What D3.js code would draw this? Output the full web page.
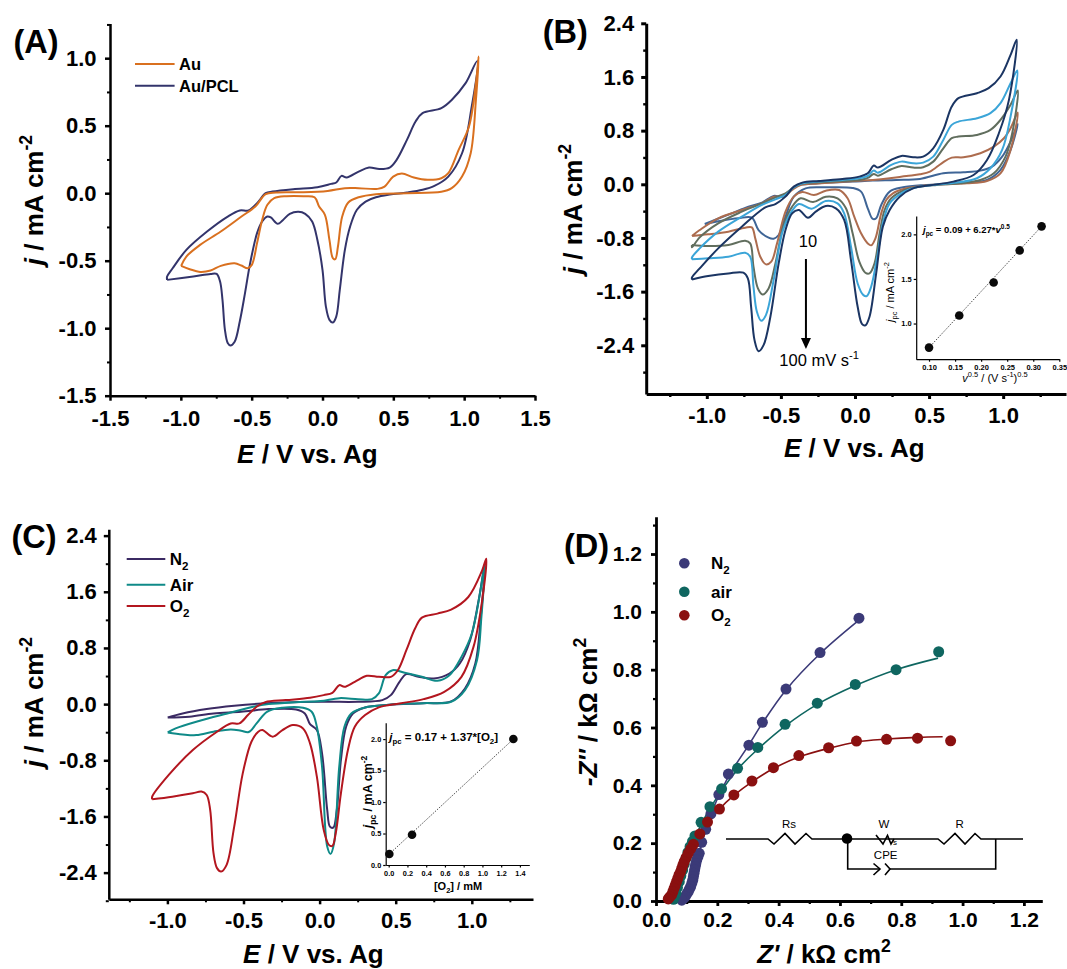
<!DOCTYPE html>
<html><head><meta charset="utf-8">
<script src="https://cdnjs.cloudflare.com/ajax/libs/d3/7.8.5/d3.min.js"></script>
<style>
html,body{margin:0;padding:0;background:#fff}
svg{display:block}
text{font-family:"Liberation Sans",Arial,sans-serif;fill:#000}
</style></head><body>
<svg id="fig" width="1067" height="969" viewBox="0 0 1067 969"></svg>
<script>
// ---- Panel A : [E / V, j / mA cm-2]
const aPcl=[[-1.097,-0.642],[-0.912,-0.617],[-0.79,-0.598],[-0.747,-0.598],[-0.723,-0.654],[-0.706,-0.79],[-0.689,-1.01],[-0.669,-1.11],[-0.65,-1.128],[-0.62,-1.10],[-0.584,-0.95],[-0.547,-0.74],[-0.511,-0.52],[-0.462,-0.296],[-0.426,-0.21],[-0.389,-0.173],[-0.365,-0.18],[-0.316,-0.227],[-0.28,-0.2],[-0.231,-0.153],[-0.17,-0.138],[-0.122,-0.153],[-0.073,-0.21],[-0.036,-0.346],[0,-0.568],[0.024,-0.84],[0.049,-0.938],[0.073,-0.958],[0.097,-0.914],[0.122,-0.716],[0.158,-0.42],[0.195,-0.247],[0.243,-0.123],[0.304,-0.062],[0.377,-0.03],[0.474,-0.01],[0.596,0.005],[0.706,0.025],[0.79,0.054],[0.888,0.123],[0.985,0.296],[1.05,0.62],[1.093,0.98],[1.01,0.815],[0.912,0.691],[0.839,0.63],[0.706,0.593],[0.657,0.531],[0.596,0.395],[0.523,0.247],[0.474,0.19],[0.401,0.18],[0.328,0.19],[0.255,0.16],[0.17,0.116],[0.134,0.128],[0.097,0.079],[0.061,0.069],[-0.036,0.044],[-0.207,0.03],[-0.353,0.012],[-0.401,0],[-0.462,-0.074],[-0.523,-0.128],[-0.584,-0.128],[-0.669,-0.173],[-0.815,-0.284],[-0.961,-0.42],[-1.058,-0.556],[-1.097,-0.617],[-1.097,-0.642]];
const aAu=[[-0.998,-0.538],[-0.937,-0.563],[-0.864,-0.583],[-0.79,-0.573],[-0.718,-0.538],[-0.62,-0.519],[-0.572,-0.536],[-0.528,-0.556],[-0.499,-0.531],[-0.462,-0.37],[-0.426,-0.198],[-0.389,-0.086],[-0.341,-0.037],[-0.255,-0.022],[-0.134,-0.022],[-0.056,-0.03],[-0.024,-0.099],[0.017,-0.16],[0.049,-0.346],[0.073,-0.481],[0.09,-0.489],[0.109,-0.395],[0.139,-0.173],[0.182,-0.069],[0.255,-0.03],[0.377,-0.007],[0.596,0],[0.839,0.01],[0.912,0.037],[0.985,0.123],[1.046,0.296],[1.083,0.691],[1.102,1.012],[1.083,0.815],[1.034,0.494],[0.961,0.321],[0.888,0.148],[0.839,0.111],[0.742,0.099],[0.645,0.116],[0.56,0.146],[0.499,0.123],[0.438,0.049],[0.389,0.032],[0.255,0.037],[0.158,0.037],[0.036,0.017],[-0.134,0.007],[-0.328,0.005],[-0.401,-0.007],[-0.474,-0.099],[-0.572,-0.173],[-0.718,-0.284],[-0.864,-0.383],[-0.961,-0.469],[-0.998,-0.538]];
// ---- Panel B : scan rates 10 ... 100 mV/s
const b100=[[-1.1,-1.418],[-0.991,-1.368],[-0.855,-1.328],[-0.753,-1.318],[-0.723,-1.403],[-0.701,-1.826],[-0.678,-2.323],[-0.651,-2.488],[-0.617,-2.398],[-0.571,-1.975],[-0.515,-1.179],[-0.469,-0.682],[-0.424,-0.433],[-0.379,-0.383],[-0.317,-0.498],[-0.265,-0.408],[-0.197,-0.323],[-0.129,-0.358],[-0.073,-0.532],[-0.027,-1.129],[0.018,-1.826],[0.048,-2.085],[0.07,-2.104],[0.098,-1.975],[0.143,-1.328],[0.188,-0.632],[0.234,-0.383],[0.302,-0.184],[0.392,-0.06],[0.506,-0.015],[0.664,0.04],[0.8,0.139],[0.891,0.363],[0.971,0.761],[1.039,1.259],[1.091,2.154],[1.05,1.93],[0.982,1.607],[0.902,1.433],[0.823,1.358],[0.698,1.284],[0.653,1.159],[0.596,0.811],[0.528,0.537],[0.46,0.413],[0.392,0.403],[0.313,0.423],[0.245,0.363],[0.154,0.249],[0.127,0.279],[0.086,0.164],[0.029,0.114],[-0.084,0.08],[-0.243,0.05],[-0.356,0.025],[-0.413,-0.035],[-0.469,-0.184],[-0.537,-0.294],[-0.605,-0.343],[-0.764,-0.632],[-0.923,-0.955],[-1.048,-1.254],[-1.1,-1.388],[-1.1,-1.418]];
const b50=[[-1.1,-1.119],[-0.991,-1.104],[-0.855,-1.08],[-0.741,-1.02],[-0.707,-1.08],[-0.685,-1.527],[-0.662,-1.9],[-0.633,-2.035],[-0.601,-1.95],[-0.549,-1.428],[-0.492,-0.731],[-0.435,-0.433],[-0.379,-0.294],[-0.293,-0.363],[-0.197,-0.249],[-0.118,-0.284],[-0.073,-0.433],[-0.027,-0.93],[0.018,-1.478],[0.057,-1.652],[0.079,-1.667],[0.109,-1.527],[0.154,-1.03],[0.188,-0.582],[0.234,-0.284],[0.313,-0.134],[0.415,-0.045],[0.528,-0.01],[0.687,0.025],[0.823,0.09],[0.914,0.239],[0.993,0.512],[1.05,1.01],[1.095,1.697],[1.05,1.507],[0.982,1.209],[0.914,1.06],[0.823,0.985],[0.698,0.935],[0.653,0.886],[0.596,0.662],[0.528,0.413],[0.46,0.323],[0.392,0.313],[0.313,0.338],[0.245,0.289],[0.154,0.174],[0.127,0.204],[0.086,0.124],[0.029,0.09],[-0.084,0.065],[-0.243,0.04],[-0.356,0.015],[-0.413,-0.045],[-0.469,-0.159],[-0.537,-0.224],[-0.628,-0.308],[-0.764,-0.483],[-0.923,-0.706],[-1.048,-0.955],[-1.1,-1.09],[-1.1,-1.119]];
const b25=[[-1.1,-0.905],[-0.991,-0.92],[-0.855,-0.905],[-0.741,-0.841],[-0.707,-0.881],[-0.685,-1.229],[-0.655,-1.552],[-0.624,-1.642],[-0.583,-1.552],[-0.537,-1.179],[-0.481,-0.607],[-0.424,-0.333],[-0.367,-0.209],[-0.283,-0.264],[-0.197,-0.184],[-0.118,-0.209],[-0.061,-0.358],[-0.016,-0.731],[0.029,-1.154],[0.07,-1.318],[0.098,-1.328],[0.132,-1.179],[0.166,-0.731],[0.2,-0.383],[0.245,-0.209],[0.336,-0.085],[0.438,-0.035],[0.551,-0.01],[0.71,0.015],[0.846,0.065],[0.937,0.164],[1.016,0.413],[1.061,0.761],[1.098,1.398],[1.05,1.184],[0.982,0.96],[0.914,0.811],[0.823,0.736],[0.698,0.711],[0.653,0.687],[0.596,0.537],[0.528,0.338],[0.46,0.254],[0.392,0.249],[0.313,0.274],[0.245,0.224],[0.154,0.129],[0.127,0.154],[0.086,0.095],[0.029,0.065],[-0.084,0.05],[-0.243,0.03],[-0.356,0.01],[-0.413,-0.045],[-0.469,-0.134],[-0.537,-0.194],[-0.628,-0.284],[-0.764,-0.408],[-0.923,-0.582],[-1.048,-0.791],[-1.1,-0.94],[-1.1,-0.905]];
const b20=[[-1.1,-0.771],[-0.991,-0.746],[-0.855,-0.706],[-0.741,-0.647],[-0.696,-0.642],[-0.673,-0.806],[-0.639,-1.08],[-0.601,-1.194],[-0.565,-1.154],[-0.526,-0.881],[-0.469,-0.408],[-0.413,-0.184],[-0.356,-0.114],[-0.277,-0.159],[-0.197,-0.095],[-0.107,-0.085],[-0.05,-0.209],[-0.005,-0.483],[0.041,-0.731],[0.086,-0.881],[0.109,-0.91],[0.138,-0.806],[0.177,-0.433],[0.211,-0.234],[0.256,-0.134],[0.347,-0.06],[0.46,-0.02],[0.596,0],[0.755,0.015],[0.891,0.05],[0.982,0.164],[1.05,0.512],[1.098,1.07],[1.05,0.836],[1.005,0.687],[0.937,0.562],[0.846,0.463],[0.732,0.403],[0.653,0.398],[0.585,0.313],[0.506,0.189],[0.438,0.149],[0.347,0.124],[0.234,0.09],[0.12,0.065],[0.007,0.05],[-0.129,0.03],[-0.265,0.01],[-0.367,-0.01],[-0.424,-0.085],[-0.481,-0.184],[-0.549,-0.184],[-0.628,-0.284],[-0.764,-0.383],[-0.923,-0.507],[-1.048,-0.682],[-1.1,-0.771]];
const b10=[[-1.014,-0.592],[-0.9,-0.542],[-0.787,-0.507],[-0.696,-0.498],[-0.651,-0.682],[-0.583,-0.796],[-0.549,-0.811],[-0.515,-0.756],[-0.469,-0.483],[-0.413,-0.184],[-0.333,-0.06],[-0.197,-0.045],[-0.016,-0.055],[0.041,-0.109],[0.086,-0.358],[0.12,-0.517],[0.143,-0.507],[0.177,-0.308],[0.234,-0.109],[0.324,-0.045],[0.483,-0.01],[0.687,0.015],[0.891,0.065],[0.982,0.214],[1.05,0.512],[1.098,0.9],[1.05,0.637],[0.993,0.413],[0.925,0.264],[0.846,0.204],[0.732,0.179],[0.596,0.164],[0.438,0.08],[0.279,0.065],[0.12,0.055],[-0.016,0.04],[-0.175,0.025],[-0.311,0.005],[-0.379,-0.01],[-0.435,-0.085],[-0.492,-0.184],[-0.549,-0.174],[-0.628,-0.274],[-0.719,-0.333],[-0.832,-0.433],[-0.946,-0.532],[-1.014,-0.592]];
const bInset=[[0.1,0.73],[0.158,1.09],[0.224,1.46],[0.274,1.82],[0.316,2.09]];
const bInsetFit=[[0.1,0.73],[0.316,2.09]];
// ---- Panel C
const cO2=[[-1.1,-1.355],[-0.968,-1.318],[-0.833,-1.27],[-0.776,-1.246],[-0.742,-1.294],[-0.719,-1.507],[-0.697,-2.123],[-0.674,-2.336],[-0.647,-2.384],[-0.611,-2.289],[-0.561,-1.744],[-0.505,-0.986],[-0.448,-0.536],[-0.403,-0.393],[-0.376,-0.37],[-0.308,-0.464],[-0.244,-0.37],[-0.176,-0.299],[-0.109,-0.346],[-0.063,-0.559],[-0.018,-1.033],[0.027,-1.791],[0.061,-2.005],[0.084,-2.019],[0.106,-1.839],[0.14,-1.27],[0.186,-0.654],[0.231,-0.322],[0.299,-0.156],[0.389,-0.047],[0.525,0.009],[0.683,0.071],[0.819,0.175],[0.932,0.389],[1.011,0.815],[1.068,1.479],[1.095,2.071],[1.068,1.905],[0.977,1.526],[0.864,1.346],[0.774,1.289],[0.672,1.232],[0.627,1.076],[0.57,0.768],[0.514,0.483],[0.468,0.389],[0.389,0.389],[0.31,0.403],[0.231,0.318],[0.163,0.246],[0.129,0.27],[0.084,0.161],[0.027,0.128],[-0.063,0.09],[-0.222,0.057],[-0.357,0.028],[-0.414,-0.038],[-0.471,-0.156],[-0.527,-0.275],[-0.584,-0.275],[-0.674,-0.393],[-0.833,-0.654],[-0.991,-1.009],[-1.1,-1.318],[-1.1,-1.355]];
const cAir=[[-0.998,-0.403],[-0.9,-0.431],[-0.81,-0.441],[-0.697,-0.393],[-0.584,-0.36],[-0.516,-0.379],[-0.466,-0.398],[-0.414,-0.275],[-0.346,-0.109],[-0.244,-0.052],[-0.109,-0.052],[-0.052,-0.109],[-0.018,-0.322],[0.016,-0.891],[0.05,-2.028],[0.072,-2.133],[0.095,-1.981],[0.129,-0.891],[0.163,-0.322],[0.208,-0.133],[0.299,-0.047],[0.457,-0.009],[0.683,0.014],[0.864,0.033],[0.955,0.199],[1.034,0.626],[1.063,1.242],[1.086,2.0],[1.057,1.621],[1.0,1.005],[0.932,0.673],[0.853,0.412],[0.774,0.332],[0.672,0.389],[0.559,0.446],[0.48,0.483],[0.434,0.412],[0.389,0.152],[0.344,0.071],[0.253,0.071],[0.129,0.085],[0.005,0.043],[-0.154,0.028],[-0.335,0],[-0.437,-0.038],[-0.606,-0.133],[-0.787,-0.237],[-0.946,-0.346],[-0.998,-0.403]];
const cN2=[[-0.998,-0.19],[-0.855,-0.18],[-0.697,-0.133],[-0.516,-0.109],[-0.335,-0.071],[-0.154,-0.076],[-0.097,-0.133],[-0.063,-0.284],[-0.018,-0.37],[0.016,-0.701],[0.05,-1.507],[0.068,-1.744],[0.09,-1.758],[0.113,-1.507],[0.14,-0.796],[0.174,-0.322],[0.219,-0.133],[0.299,-0.047],[0.457,-0.009],[0.683,0.014],[0.864,0.038],[0.955,0.223],[1.023,0.578],[1.059,1.242],[1.086,2.0],[1.045,1.479],[0.989,0.91],[0.921,0.578],[0.853,0.436],[0.751,0.365],[0.649,0.389],[0.57,0.427],[0.525,0.318],[0.468,0.128],[0.412,0.057],[0.253,0.033],[0.05,0.033],[-0.176,0.028],[-0.38,0.009],[-0.561,-0.024],[-0.742,-0.071],[-0.9,-0.133],[-0.998,-0.19]];
const cInset=[[0.007,0.175],[0.249,0.48],[1.33,2.0]];
const cInsetFit=[[0.007,0.175],[1.33,2.0]];
// ---- Panel D : [Z' , -Z'']
const dN2=[[0.662,0.978],[0.535,0.859],[0.424,0.733],[0.347,0.618],[0.303,0.539],[0.236,0.439],[0.205,0.368],[0.179,0.301],[0.162,0.248],[0.149,0.203],[0.141,0.165],[0.137,0.154],[0.133,0.142],[0.13,0.13],[0.128,0.119],[0.126,0.108],[0.124,0.096],[0.122,0.085],[0.12,0.073],[0.117,0.062],[0.113,0.05],[0.109,0.041],[0.105,0.032],[0.1,0.024],[0.095,0.015],[0.09,0.009],[0.084,0.003]];
const dAir=[[0.922,0.862],[0.783,0.8],[0.65,0.749],[0.526,0.684],[0.421,0.611],[0.332,0.531],[0.266,0.459],[0.214,0.388],[0.176,0.326],[0.147,0.272],[0.127,0.225],[0.119,0.206],[0.111,0.188],[0.104,0.168],[0.098,0.148],[0.092,0.127],[0.087,0.107],[0.081,0.087],[0.076,0.067],[0.07,0.047],[0.065,0.027],[0.061,0.016],[0.057,0.006]];
const dO2=[[0.961,0.554],[0.853,0.563],[0.752,0.559],[0.654,0.553],[0.563,0.53],[0.466,0.503],[0.383,0.461],[0.313,0.415],[0.254,0.367],[0.207,0.318],[0.168,0.273],[0.143,0.232],[0.122,0.196],[0.113,0.18],[0.105,0.165],[0.098,0.15],[0.092,0.136],[0.088,0.125],[0.084,0.113],[0.08,0.101],[0.075,0.09],[0.071,0.078],[0.067,0.067],[0.063,0.055],[0.059,0.044],[0.055,0.032],[0.051,0.021],[0.045,0.014],[0.04,0.007]];
const dN2Fit=[[0.655,0.965],[0.535,0.855],[0.424,0.73],[0.347,0.615],[0.303,0.54],[0.236,0.43],[0.179,0.3],[0.141,0.165],[0.12,0.073],[0.084,0.003]];
const dAirFit=[[0.92,0.84],[0.783,0.8],[0.65,0.745],[0.526,0.68],[0.421,0.605],[0.332,0.525],[0.266,0.455],[0.176,0.32],[0.127,0.22],[0.087,0.107],[0.057,0.006]];
const dO2Fit=[[0.935,0.568],[0.853,0.566],[0.752,0.56],[0.654,0.55],[0.563,0.528],[0.466,0.498],[0.383,0.458],[0.313,0.412],[0.254,0.365],[0.207,0.318],[0.143,0.232],[0.092,0.136],[0.04,0.007]];
// ---- ticks
const xTicksCV=[-1,-0.5,0,0.5,1];
const aXTicks=[-1.5,-1,-0.5,0,0.5,1,1.5], aYTicks=[-1.5,-1,-0.5,0,0.5,1];
const bcYTicks=[-2.4,-1.6,-0.8,0,0.8,1.6,2.4];
const dTicks=[0,0.2,0.4,0.6,0.8,1,1.2];

const svg=d3.select("#fig");
const f1=d=>d.toFixed(1), f2=d=>d.toFixed(2);
const curve=d3.curveCatmullRom.alpha(0.5);

function rich(sel,segs,size){
  let shift=0;
  segs.forEach(([t,st=""])=>{
    const ts=sel.append("tspan").text(t);
    const s=st.split(" ");
    if(s.includes("i")) ts.attr("font-style","italic");
    let target=0;
    if(s.includes("sub")) {target=size*0.28; ts.attr("font-size",size*0.68);}
    if(s.includes("sup")) {target=-size*0.42; ts.attr("font-size",size*0.68);}
    if(target!==shift){ts.attr("dy",target-shift); shift=target;}
  });
  return sel;
}
function label(x,y,segs,size,opt={}){
  const t=svg.append("text").attr("font-size",size).attr("font-weight",opt.weight||"bold")
    .attr("text-anchor",opt.anchor||"start");
  if(opt.rotate) t.attr("transform",`translate(${x},${y}) rotate(-90)`);
  else t.attr("x",x).attr("y",y);
  return rich(t,segs,size);
}
function axes(o){
  const x=d3.scaleLinear().domain(o.xd).range([o.l,o.r]);
  const y=d3.scaleLinear().domain(o.yd).range([o.b,o.t]);
  const g=svg.append("g");
  const sw=o.sw;
  const ax=g.append("g").attr("transform",`translate(0,${o.b})`)
    .call(d3.axisBottom(x).tickValues(o.xt).tickSizeInner(o.ts).tickSizeOuter(0).tickPadding(o.xp).tickFormat(o.xf||f1));
  const ay=g.append("g").attr("transform",`translate(${o.l},0)`)
    .call(d3.axisLeft(y).tickValues(o.yt).tickSizeInner(o.ts).tickSizeOuter(0).tickPadding(o.yp).tickFormat(o.yf||f1));
  if(o.xm) g.append("g").attr("transform",`translate(0,${o.b})`).call(d3.axisBottom(x).tickValues(o.xm).tickSizeInner(o.ts*0.6).tickSizeOuter(0).tickFormat(""))
    .call(s=>s.select(".domain").remove()).selectAll("line").attr("stroke-width",sw*0.8);
  if(o.ym) g.append("g").attr("transform",`translate(${o.l},0)`).call(d3.axisLeft(y).tickValues(o.ym).tickSizeInner(o.ts*0.6).tickSizeOuter(0).tickFormat(""))
    .call(s=>s.select(".domain").remove()).selectAll("line").attr("stroke-width",sw*0.8);
  [ax,ay].forEach(a=>{
    a.selectAll(".domain").attr("stroke-width",sw).attr("stroke","#000");
    a.selectAll("line").attr("stroke-width",sw).attr("stroke","#000");
    a.selectAll("text").attr("font-size",o.fs).attr("font-weight","bold")
      .attr("font-family",'"Liberation Sans",Arial,sans-serif').attr("fill","#000");
  });
  return {x,y};
}
function curveLine(sc,data,color,w=2,c=curve,dash=null){
  svg.append("path").datum(data).attr("fill","none").attr("stroke",color).attr("stroke-width",w)
    .attr("stroke-linejoin","round").attr("stroke-dasharray",dash)
    .attr("d",d3.line().x(d=>sc.x(d[0])).y(d=>sc.y(d[1])).curve(c));
}
function dots(sc,data,color,r){
  svg.append("g").selectAll("circle").data(data).join("circle")
    .attr("cx",d=>sc.x(d[0])).attr("cy",d=>sc.y(d[1])).attr("r",r).attr("fill",color);
}
function legendLine(x0,x1,y,color,segs,size){
  svg.append("line").attr("x1",x0).attr("x2",x1).attr("y1",y).attr("y2",y).attr("stroke",color).attr("stroke-width",2);
  label(x1+4.5,y+size*0.36,segs,size);
}
const midTicks=(a,b,step)=>d3.range(a,b+1e-9,step);

// ===== A
{
  const sc=axes({l:110,r:535,t:23.5,b:395.7,xd:[-1.5,1.5],yd:[-1.5,1.257],xt:aXTicks,yt:aYTicks,
    xm:midTicks(-1.25,1.25,0.5),ym:midTicks(-1.25,1.25,0.5),ts:5,sw:2.5,xp:9.7,yp:8.5,fs:22});
  curveLine(sc,aPcl,"#33346b");
  curveLine(sc,aAu,"#d9701f");
  legendLine(135,174.6,64,"#d9701f",[["Au"]],16.5);
  legendLine(135,174.6,85.7,"#33346b",[["Au/PCL"]],16.5);
  label(13.5,53,[["(A)"]],32.5);
  label(307.4,463,[["E","i"],[" / V vs. Ag"]],26,{anchor:"middle"});
  label(43,200,[["j","i"],[" / mA cm"],["-2","sup"]],26,{anchor:"middle",rotate:true});
}
// ===== B
{
  const sc=axes({l:646.2,r:1066,t:23.3,b:394,xd:[-1.409,1.424],yd:[-3.126,2.4],xt:xTicksCV,yt:bcYTicks,
    xm:midTicks(-1.25,1.25,0.5),ym:midTicks(-2.8,2,0.8),ts:5,sw:3,xp:8.4,yp:7,fs:22});
  curveLine(sc,b10,"#3f6596");
  curveLine(sc,b20,"#ad6c4e");
  curveLine(sc,b25,"#616e5e");
  curveLine(sc,b50,"#3ba5d8");
  curveLine(sc,b100,"#1b3563");
  label(542.7,43,[["(B)"]],32.5);
  label(854.3,457,[["E","i"],[" / V vs. Ag"]],26,{anchor:"middle"});
  label(582,209,[["j","i"],[" / mA cm"],["-2","sup"]],26,{anchor:"middle",rotate:true});
  label(808,247,[["10"]],16.5,{anchor:"middle",weight:"normal"});
  const ax=sc.x(-0.331);
  svg.append("line").attr("x1",ax).attr("x2",ax).attr("y1",259).attr("y2",340).attr("stroke","#000").attr("stroke-width",2);
  svg.append("path").attr("d",d3.line()([[ax-5,338],[ax+5,338],[ax,349]])).attr("fill","#000");
  label(779.3,366,[["100 mV s"],["-1","sup"]],16.5,{weight:"normal"});
  // inset
  const si=axes({l:916.2,r:1059.3,t:216,b:359.2,xd:[0.0754,0.35],yd:[0.6,2.206],xt:[0.1,0.15,0.2,0.25,0.3,0.35],yt:[1,1.5,2],
    ts:2.5,sw:1.2,xp:3,yp:2,fs:7.5,xf:f2});
  curveLine(si,bInsetFit,"#222",0.9,d3.curveLinear,"1.2 1.4");
  dots(si,bInset,"#0a0a0a",4.3);
  label(923,233,[["j","i"],["pc","sub"],[" = 0.09 + 6.27*"],["v","i"],["0.5","sup"]],9.5);
  label(995,381.7,[["v","i"],["0.5","sup"],[" / (V s"],["-1","sup"],[")"],["0.5","sup"]],11,{anchor:"middle",weight:"normal"});
  label(894,292,[["j","i"],["pc","sub"],[" / mA cm"],["-2","sup"]],11,{anchor:"middle",rotate:true,weight:"normal"});
}
// ===== C
{
  const sc=axes({l:108.8,r:533,t:529.3,b:899.3,xd:[-1.385,1.402],yd:[-2.78,2.49],xt:xTicksCV,yt:bcYTicks,
    xm:midTicks(-1.25,1.25,0.5),ym:midTicks(-2.8,2,0.8),ts:5,sw:2.5,xp:8,yp:7,fs:22});
  curveLine(sc,cN2,"#3b2a63");
  curveLine(sc,cAir,"#0f8a88");
  curveLine(sc,cO2,"#b3161f");
  legendLine(126.7,165.3,559,"#3b2a63",[["N"],["2","sub"]],17);
  legendLine(126.7,165.3,584.7,"#0f8a88",[["Air"]],17);
  legendLine(126.7,165.3,606,"#b3161f",[["O"],["2","sub"]],17);
  label(11.4,548,[["(C)"]],32.5);
  label(313.4,962.5,[["E","i"],[" / V vs. Ag"]],26,{anchor:"middle"});
  label(43,702,[["j","i"],[" / mA cm"],["-2","sup"]],26,{anchor:"middle",rotate:true});
  const si=axes({l:385.7,r:529.3,t:722.7,b:865,xd:[-0.032,1.5],yd:[0,2.26],xt:[0,0.2,0.4,0.6,0.8,1,1.2,1.4],yt:[0,0.5,1,1.5,2],
    ts:2.5,sw:1.2,xp:3,yp:2,fs:7.3});
  curveLine(si,cInsetFit,"#222",0.9,d3.curveLinear,"1.2 1.4");
  dots(si,cInset,"#0a0a0a",4.3);
  label(389.3,741,[["j","i"],["pc","sub"],[" =  0.17 + 1.37*[O"],["2","sub"],["]"]],11.5);
  label(458,890,[["[O"],["2","sub"],["] / mM"]],11,{anchor:"middle"});
  label(372,792,[["j","i"],["pc","sub"],[" / mA cm"],["-2","sup"]],12.5,{anchor:"middle",rotate:true});
}
// ===== D
{
  const sc=axes({l:656,r:1042.3,t:516.7,b:901,xd:[0,1.26],yd:[0,1.329],xt:dTicks,yt:dTicks,
    xm:midTicks(0.1,1.1,0.2),ym:midTicks(0.1,1.3,0.2),ts:5,sw:2.8,xp:6.5,yp:9,fs:21});
  curveLine(sc,dN2Fit,"#3b3a78",1.6);
  curveLine(sc,dAirFit,"#0f6660",1.6);
  curveLine(sc,dO2Fit,"#8a1010",1.6);
  dots(sc,dN2,"#3b3a78",5.5);
  dots(sc,dAir,"#0f6660",5.5);
  dots(sc,dO2,"#8a1010",5.5);
  [[563.3,"#3b3a78",[["N"],["2","sub"]]],[591.7,"#0f6660",[["air"]]],[615.3,"#8a1010",[["O"],["2","sub"]]]].forEach(([y,c,s])=>{
    svg.append("circle").attr("cx",684.3).attr("cy",y).attr("r",5.3).attr("fill",c);
    label(711,y+6,s,17);
  });
  label(564,557,[["(D)"]],32.5);
  label(824,962.5,[["Z'","i"],[" / k\u03A9 cm"],["2","sup"]],26,{anchor:"middle"});
  label(597,712,[["-Z''","i"],[" / k\u03A9 cm"],["2","sup"]],26,{anchor:"middle",rotate:true});
  // equivalent circuit schematic
  const ln=d3.line();
  const wire=p=>svg.append("path").attr("d",ln(p)).attr("fill","none").attr("stroke","#000").attr("stroke-width",1.6).attr("stroke-linejoin","miter");
  wire([[726,839],[768,839],[774,844],[785,833.5],[795,844],[806,833.5],[812,839],[938,839],[944,844],[955,833.5],[965,844],[975,833.5],[981,839],[1023,839]]);
  wire([[876,835],[883,844],[887.5,835.5],[891,844],[894,839]]);
  wire([[847.7,839],[847.7,869],[880,869]]);
  wire([[873.5,863.5],[880,869],[873.5,875]]);
  wire([[885,863.5],[890,869],[885,875]]);
  wire([[890,869],[995.7,869],[995.7,839]]);
  svg.append("circle").attr("cx",847).attr("cy",838.5).attr("r",5.3).attr("fill","#000");
  label(789,828,[["Rs"]],11.5,{anchor:"middle",weight:"normal"});
  label(884,828,[["W"]],11.5,{anchor:"middle",weight:"normal"});
  label(895,845,[["s"]],8,{anchor:"middle",weight:"normal"});
  label(959.7,828,[["R"]],11.5,{anchor:"middle",weight:"normal"});
  label(885.7,859,[["CPE"]],11.5,{anchor:"middle",weight:"normal"});
}
</script>
</body></html>
